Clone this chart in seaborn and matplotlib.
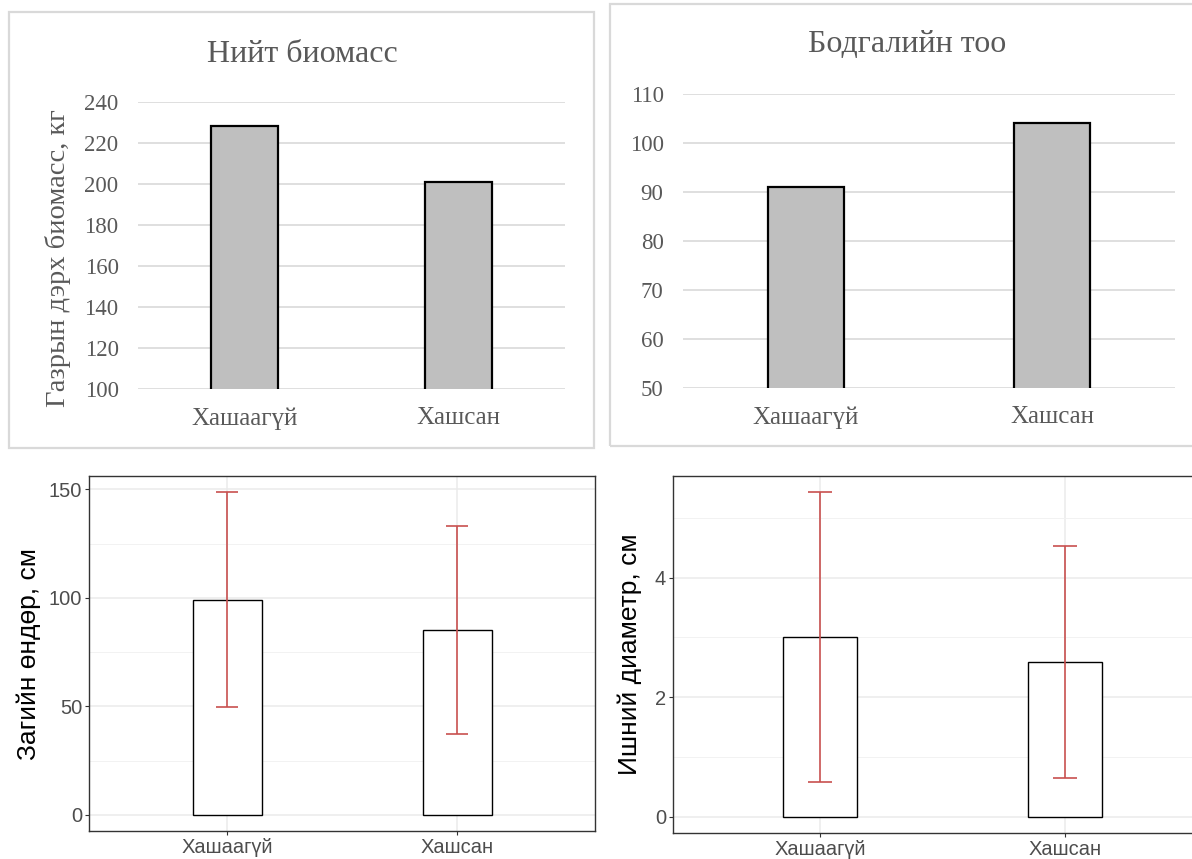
import numpy as np
import matplotlib.pyplot as plt
import matplotlib.patches as patches
from matplotlib.ticker import MultipleLocator
import seaborn as sns

sns.set_theme(style="white")

# Data
groups = ["Хашаагүй", "Хашсан"]
biomass = [228.3, 201.2]            # Нийт биомасс, кг
plant_count = [91.0, 104.0]         # Бодгалийн тоо
height_mean = [99.2, 85.3]          # Загийн өндөр, см
height_sd = [49.5, 47.9]
diam_mean = [3.01, 2.59]            # Ишний диаметр, см
diam_sd = [2.42, 1.94]

W, H = 1192, 859
fig = plt.figure(figsize=(W / 100, H / 100), dpi=100)

serif = ["Liberation Serif", "DejaVu Serif"]
sans = ["Liberation Sans", "DejaVu Sans"]
excel_grey = "#595959"


def px_axes(x0, y0, x1, y1):
    return fig.add_axes([x0 / W, 1 - y1 / H, (x1 - x0) / W, (y1 - y0) / H])


def panel_border(x0, y0, x1, y1):
    fig.patches.append(patches.Rectangle((x0 / W, 1 - y1 / H), (x1 - x0) / W, (y1 - y0) / H,
                                         transform=fig.transFigure, fill=False,
                                         edgecolor="#D9D9D9", linewidth=1.6))


def excel_panel(ax, values, lo, hi, step, title, title_xy, ylabel=None):
    sns.barplot(x=groups, y=values, ax=ax, color="#BFBFBF", saturation=1,
                edgecolor="black", linewidth=1.6, width=0.313)
    ax.set_xlim(-0.5, 1.5)
    ax.set_ylim(lo, hi)
    ax.set_yticks(np.arange(lo, hi + 1, step))
    ax.yaxis.grid(True, color="#D9D9D9", linewidth=1.2)
    ax.set_axisbelow(True)
    for s in ax.spines.values():
        s.set_visible(False)
    ax.tick_params(length=0, labelcolor=excel_grey)
    ax.tick_params(axis="y", pad=14, labelsize=16.5)
    ax.tick_params(axis="x", pad=13, labelsize=18)
    for lab in ax.get_xticklabels() + ax.get_yticklabels():
        lab.set_family(serif)
    ax.set_xlabel("")
    if ylabel:
        ax.set_ylabel(ylabel, fontsize=20.5, color=excel_grey, family=serif)
    else:
        ax.set_ylabel("")
    fig.text(title_xy[0] / W, 1 - title_xy[1] / H, title, ha="center", va="center",
             fontsize=23, color=excel_grey, family=serif)


def gg_panel(ax, means, sds, ylabel, major, minor, capsize):
    sns.barplot(x=groups, y=means, ax=ax, color="white", saturation=1,
                edgecolor="black", linewidth=1.0, width=0.3)
    ax.errorbar(x=np.arange(len(groups)), y=means, yerr=sds, fmt="none",
                ecolor="#C8504F", elinewidth=1.2, capsize=capsize, capthick=1.2)
    top = max(m + s for m, s in zip(means, sds))
    pad = 0.05 * top
    ax.set_ylim(-pad, top + pad)
    ax.set_xlim(-0.6, 1.6)
    ax.yaxis.set_major_locator(MultipleLocator(major))
    ax.yaxis.set_minor_locator(MultipleLocator(minor))
    ax.grid(True, which="major", color="#EBEBEB", linewidth=1.1)
    ax.yaxis.grid(True, which="minor", color="#F2F2F2", linewidth=0.7)
    ax.set_axisbelow(True)
    for s in ax.spines.values():
        s.set_color("#333333")
        s.set_linewidth(1.0)
    ax.tick_params(which="major", length=3, width=0.8, color="#333333",
                   labelsize=14.5, labelcolor="#4D4D4D", pad=2, left=True, bottom=True)
    ax.tick_params(which="minor", length=0)
    for lab in ax.get_xticklabels() + ax.get_yticklabels():
        lab.set_family(sans)
    ax.set_xlabel("")
    ax.set_ylabel(ylabel, fontsize=19, color="black", family=sans)


# Top left: total biomass
panel_border(9, 12, 594, 448)
ax1 = px_axes(138, 102, 565, 389)
excel_panel(ax1, biomass, 100, 240, 20, "Нийт биомасс", (302, 54),
            ylabel="Газрын дэрх биомасс, кг")
ax1.yaxis.set_label_coords(-0.157, 0.455)

# Top right: number of plants (right edge cropped in the reference)
panel_border(610, 4, 1210, 446)
ax2 = px_axes(683, 94, 1175, 388)
excel_panel(ax2, plant_count, 50, 110, 10, "Бодгалийн тоо", (907, 44))

# Bottom left: height
ax3 = px_axes(89, 476, 595, 831)
gg_panel(ax3, height_mean, height_sd, "Загийн өндөр, см", 50, 25, 8.1)
ax3.yaxis.set_label_coords(-0.094, 0.5)

# Bottom right: stem diameter (cropped on the right in the reference)
ax4 = px_axes(673, 476, 1212, 833)
gg_panel(ax4, diam_mean, diam_sd, "Ишний диаметр, см", 2, 1, 8.8)
ax4.yaxis.set_label_coords(-0.057, 0.5)

fig.savefig("out.png", dpi=100)
